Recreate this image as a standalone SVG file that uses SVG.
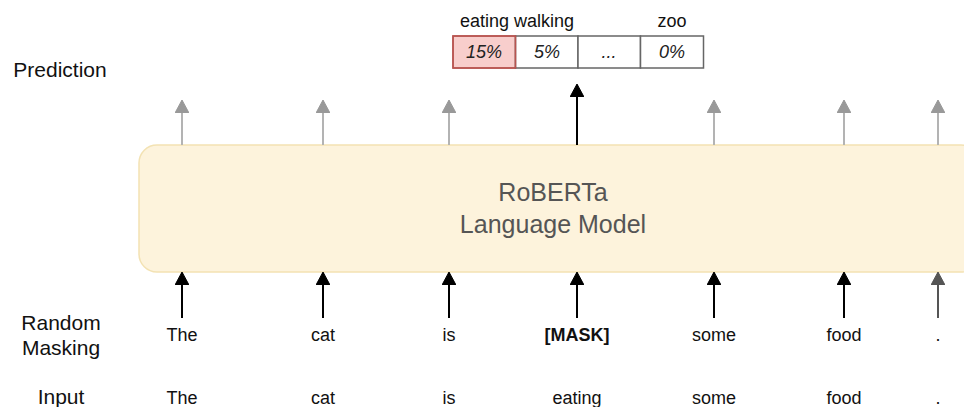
<svg xmlns="http://www.w3.org/2000/svg" width="964" height="407" viewBox="0 0 964 407">
  <style>
    text { font-family: "Liberation Sans", Arial, sans-serif; fill: #111; }
    .lbl { font-size: 21px; text-anchor: middle; }
    .tok { font-size: 18px; text-anchor: middle; }
    .pct { font-size: 18px; font-style: italic; text-anchor: middle; fill: #222; }
    .top { font-size: 18px; text-anchor: middle; }
    .model { font-size: 25px; text-anchor: middle; fill: #555; }
    .cell { fill: #fff; stroke: #666; stroke-width: 1.5; }
    .up-gray { stroke: #b3b3b3; stroke-width: 2; fill: none; }
    .up-black { stroke: #000; stroke-width: 2; fill: none; }
    .up-dark { stroke: #555; stroke-width: 2; fill: none; }
  </style>
  <defs>
    <marker id="headGray" markerWidth="14" markerHeight="14" viewBox="0 0 14 14" refX="12" refY="7" orient="auto" markerUnits="userSpaceOnUse">
      <path d="M0,0 L13,7 L0,14 Z" fill="#999" stroke="#999"/>
    </marker>
    <marker id="headBlack" markerWidth="14" markerHeight="14" viewBox="0 0 14 14" refX="12" refY="7" orient="auto" markerUnits="userSpaceOnUse">
      <path d="M0,0 L13,7 L0,14 Z" fill="#000" stroke="#000"/>
    </marker>
    <marker id="headDark" markerWidth="14" markerHeight="14" viewBox="0 0 14 14" refX="12" refY="7" orient="auto" markerUnits="userSpaceOnUse">
      <path d="M0,0 L13,7 L0,14 Z" fill="#555" stroke="#555"/>
    </marker>
  </defs>

  <!-- row labels -->
  <g id="label-prediction"><text class="lbl" x="60" y="77">Prediction</text></g>
  <g id="label-masking"><text class="lbl" x="61" y="330">Random</text><text class="lbl" x="61" y="355">Masking</text></g>
  <g id="label-input"><text class="lbl" x="61" y="404">Input</text></g>

  <!-- language model block -->
  <g id="model">
    <rect x="139" y="145" width="840" height="127" rx="18" ry="18" fill="#fdf3dc" stroke="#f3e2b3" stroke-width="1.5"/>
    <text class="model" x="553" y="201">RoBERTa</text>
    <text class="model" x="553" y="233">Language Model</text>
  </g>

  <!-- prediction distribution -->
  <g id="prediction">
    <text class="top" x="517" y="27">eating walking</text>
    <text class="top" x="672" y="27">zoo</text>
    <rect x="453" y="36" width="62.5" height="32" fill="#f8cecc" stroke="#b85450" stroke-width="1.5"/>
    <rect class="cell" x="515.5" y="36" width="62.5" height="32"/>
    <rect class="cell" x="578" y="36" width="62.5" height="32"/>
    <rect class="cell" x="640.5" y="36" width="63" height="32"/>
    <rect x="453" y="36" width="62.5" height="32" fill="none" stroke="#b85450" stroke-width="1.5"/>
    <text class="pct" x="484" y="58">15%</text>
    <text class="pct" x="547" y="58">5%</text>
    <text class="pct" x="609" y="58">...</text>
    <text class="pct" x="672" y="58">0%</text>
  </g>

  <!-- masked tokens -->
  <g id="masked-tokens">
    <text class="tok" x="182" y="341">The</text>
    <text class="tok" x="323" y="341">cat</text>
    <text class="tok" x="449" y="341">is</text>
    <text class="tok" x="577" y="341" font-weight="bold">[MASK]</text>
    <text class="tok" x="714" y="341">some</text>
    <text class="tok" x="844" y="341">food</text>
    <text class="tok" x="938" y="341">.</text>
  </g>

  <!-- input tokens -->
  <g id="input-tokens">
    <text class="tok" x="182" y="404">The</text>
    <text class="tok" x="323" y="404">cat</text>
    <text class="tok" x="449" y="404">is</text>
    <text class="tok" x="577" y="404">eating</text>
    <text class="tok" x="714" y="404">some</text>
    <text class="tok" x="844" y="404">food</text>
    <text class="tok" x="938" y="404">.</text>
  </g>

  <!-- connectors -->
  <g id="connectors">
    <line class="up-black" x1="182" y1="318" x2="182" y2="273" marker-end="url(#headBlack)"/>
    <line class="up-black" x1="323" y1="318" x2="323" y2="273" marker-end="url(#headBlack)"/>
    <line class="up-black" x1="449" y1="318" x2="449" y2="273" marker-end="url(#headBlack)"/>
    <line class="up-black" x1="577" y1="318" x2="577" y2="273" marker-end="url(#headBlack)"/>
    <line class="up-black" x1="714" y1="318" x2="714" y2="273" marker-end="url(#headBlack)"/>
    <line class="up-black" x1="844" y1="318" x2="844" y2="273" marker-end="url(#headBlack)"/>
    <line class="up-dark" x1="938" y1="318" x2="938" y2="273" marker-end="url(#headDark)"/>

    <line class="up-gray" x1="182" y1="145" x2="182" y2="101" marker-end="url(#headGray)"/>
    <line class="up-gray" x1="323" y1="145" x2="323" y2="101" marker-end="url(#headGray)"/>
    <line class="up-gray" x1="449" y1="145" x2="449" y2="101" marker-end="url(#headGray)"/>
    <line class="up-black" x1="577" y1="145" x2="577" y2="85" marker-end="url(#headBlack)"/>
    <line class="up-gray" x1="714" y1="145" x2="714" y2="101" marker-end="url(#headGray)"/>
    <line class="up-gray" x1="844" y1="145" x2="844" y2="101" marker-end="url(#headGray)"/>
    <line class="up-gray" x1="938" y1="145" x2="938" y2="101" marker-end="url(#headGray)"/>
  </g>
</svg>
